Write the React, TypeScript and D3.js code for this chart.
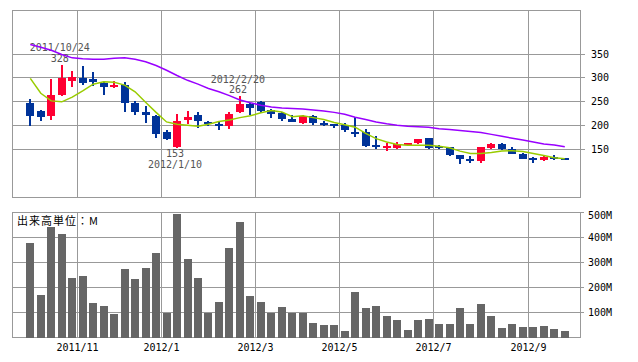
import React from "react";
import * as d3 from "d3";

const open = [247,231,220,264,294,300,297,290,282,285,247,229,220,186,156,212,222,208,204,200,228,246,250,232,227,214,205,220,206,203,201,186,187,160,154,154,159,164,174,156,155,138,130,126,153,161,152,142,132,128,133,133];
const close = [220,219,265,300,301,290,291,281,286,248,229,223,183,172,211,218,210,203,200,224,246,237,231,225,214,208,220,206,201,200,191,185,158,156,157,161,164,172,154,155,138,130,126,155,161,151,141,131,128,134,132,128];
const high = [256,233,297,328,314,325,312,292,294,291,252,242,222,191,225,230,228,211,209,228,262,248,252,236,229,222,222,222,210,204,205,218,194,179,164,167,165,172,174,160,156,139,136,156,165,163,155,143,134,136,138,133];
const low = [199,210,212,263,281,285,283,264,279,229,222,206,174,170,153,204,196,200,191,193,227,222,226,217,210,207,203,201,200,196,188,177,156,151,147,152,158,161,151,151,137,120,123,122,151,150,140,130,122,126,128,128];
const ma26 = [370,364,358,349,342,340,339,339,341,342,339,334,326,316,305,295,287,278,271,263,254,248,243,239,237,236,235,233,231,228,224,218,213,208,204,201,199,198,197,194,192,190,188,186,182,178,174,170,166,162,160,156];
const ma13 = [299,268,252,250,260,273,287,292,291,285,271,249,228,208,203,201,199,203,209,212,217,221,227,232,229,219,221,217,213,207,202,197,184,173,166,161,159,159,159,157,154,147,142,142,144,147,148,146,142,138,133,131];
const volume = [379,169,443,415,238,247,137,126,94,275,235,279,339,98,496,315,238,98,142,359,464,166,142,100,122,98,100,57,50,50,25,182,118,126,86,70,29,70,74,54,54,118,54,134,86,37,54,41,41,45,33,25];

const priceTicks = [150, 200, 250, 300, 350];
const volumeTicks = [100, 200, 300, 400, 500];
const monthLabels = ["2011/11", "2012/1", "2012/3", "2012/5", "2012/7", "2012/9"];
const monthStartIndex = [5, 13, 22, 30, 39, 48];

const annotations = [
  { index: 3, date: "2011/10/24", value: 328, kind: "high" },
  { index: 20, date: "2012/2/20", value: 262, kind: "high" },
  { index: 14, date: "2012/1/10", value: 153, kind: "low" },
];

const W = 638, H = 362;
const L = 12.5, R = 580.5;
const PT = 10.5, PB = 197.5;
const VT = 212.5, VB = 337.5;
const GRID = "#999999";
const UP = "#ff0033";
const DOWN = "#003399";
const MONO = "'DejaVu Sans Mono', 'Liberation Mono', monospace";

export default function App() {
  const n = open.length;
  const x = d3.scaleLinear().domain([-1.7, 52.5]).range([L, R]);
  const yP = d3.scaleLinear().domain([50, 441]).range([PB, PT]);
  const yV = d3.scaleLinear().domain([0, 500]).range([VB, VT]);
  const crisp = (v: number) => Math.round(v - 0.5) + 0.5;
  const idx = d3.range(n);

  const line26 = d3.line<number>().x((i) => x(i)).y((i) => yP(ma26[i]));
  const line13 = d3.line<number>().x((i) => x(i)).y((i) => yP(ma13[i]));

  const gridX = monthStartIndex.map((i) => crisp(x(i - 0.5)));

  return (
    <svg width={W} height={H} style={{ position: "absolute", left: 0, top: 0, background: "#fff" }}>
      <rect x={0} y={0} width={W} height={H} fill="#fff" />
      {/* price panel grid */}
      <g stroke={GRID} strokeWidth={1} shapeRendering="crispEdges" fill="none">
        {priceTicks.map((t) => (
          <line key={"pg" + t} x1={L} x2={R + 4} y1={crisp(yP(t))} y2={crisp(yP(t))} />
        ))}
        {gridX.map((gx, k) => (
          <line key={"pv" + k} x1={gx} x2={gx} y1={PT} y2={PB} />
        ))}
        <rect x={L} y={PT} width={R - L} height={PB - PT} />
        {volumeTicks.map((t) => (
          <line key={"vg" + t} x1={L} x2={R + 3} y1={crisp(yV(t))} y2={crisp(yV(t))} />
        ))}
        {gridX.map((gx, k) => (
          <line key={"vv" + k} x1={gx} x2={gx} y1={VT} y2={VB} />
        ))}
        <rect x={L} y={VT} width={R - L} height={VB - VT} />
      </g>

      {/* annotations */}
      <g fontFamily={MONO} fontSize={10} fill="#555" textAnchor="middle">
        {annotations.map((a) => {
          const ax = x(a.index) - 2;
          const ay = yP(a.value);
          if (a.kind === "high") {
            return (
              <g key={a.date}>
                <text x={ax} y={ay - 17} dominantBaseline="central">{a.date}</text>
                <text x={ax} y={ay - 6.5} dominantBaseline="central">{a.value}</text>
              </g>
            );
          }
          return (
            <g key={a.date}>
              <text x={ax} y={ay + 5.5} dominantBaseline="central">{a.value}</text>
              <text x={ax} y={ay + 16.5} dominantBaseline="central">{a.date}</text>
            </g>
          );
        })}
      </g>

      {/* candles */}
      <g shapeRendering="crispEdges">
        {idx.map((i) => {
          const up = close[i] > open[i];
          const col = up ? UP : DOWN;
          const cx = Math.round(x(i));
          const top = yP(Math.max(open[i], close[i]));
          const bot = yP(Math.min(open[i], close[i]));
          const h = Math.max(2, bot - top);
          return (
            <g key={"c" + i}>
              <rect x={cx - 1} y={yP(high[i])} width={2} height={yP(low[i]) - yP(high[i])} fill={col} />
              <rect x={cx - 4} y={h === 2 ? (top + bot) / 2 - 1 : top} width={8} height={h} fill={col} />
            </g>
          );
        })}
      </g>

      {/* moving averages */}
      <path d={line26(idx) || ""} fill="none" stroke="#9900ff" strokeWidth={1.5} />
      <path d={line13(idx) || ""} fill="none" stroke="#99cc00" strokeWidth={1.5} />

      {/* volume bars */}
      <g fill="#666666" shapeRendering="crispEdges">
        {idx.map((i) => (
          <rect key={"v" + i} x={Math.round(x(i)) - 4} y={yV(volume[i])} width={8} height={VB - yV(volume[i])} />
        ))}
      </g>

      {/* axis labels */}
      <g fontFamily={MONO} fontSize={10} fill="#000">
        {priceTicks.map((t) => (
          <text key={"pl" + t} x={591} y={yP(t)} dominantBaseline="central">{t}</text>
        ))}
        {volumeTicks.map((t) => (
          <text key={"vl" + t} x={588} y={t === 500 ? yV(t) + 3 : yV(t)} dominantBaseline="central">{t + "M"}</text>
        ))}
        {monthLabels.map((m, k) => (
          <text key={"ml" + m} x={gridX[k]} y={347.5} textAnchor="middle" dominantBaseline="central">{m}</text>
        ))}
      </g>
      <text x={17} y={220} fontFamily="'Noto Sans CJK JP', sans-serif" fontSize={11} letterSpacing={1} fill="#000" dominantBaseline="central">
        出来高単位：M
      </text>
    </svg>
  );
}
